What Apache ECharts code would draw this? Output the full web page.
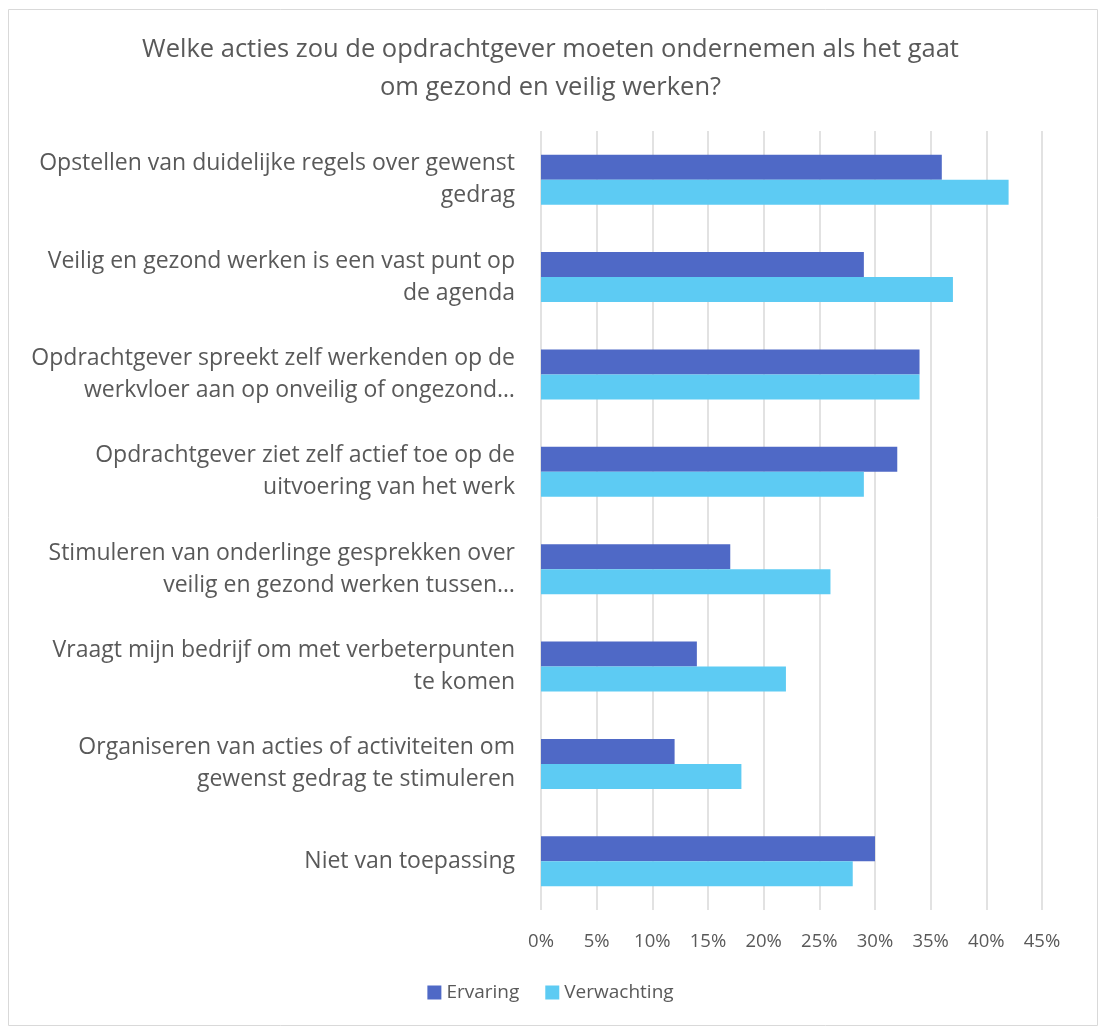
<!DOCTYPE html>
<html>
<head>
<meta charset="utf-8">
<script src="https://cdn.jsdelivr.net/npm/echarts@6/dist/echarts.min.js"></script>
<style>
html,body{margin:0;padding:0;background:#fff;}
#c{width:1101px;height:1028px;}
</style>
</head>
<body>
<div id="c"></div>
<script>
const categories = [
  "Opstellen van duidelijke regels over gewenst\ngedrag",
  "Veilig en gezond werken is een vast punt op\nde agenda",
  "Opdrachtgever spreekt zelf werkenden op de\nwerkvloer aan op onveilig of ongezond…",
  "Opdrachtgever ziet zelf actief toe op de\nuitvoering van het werk",
  "Stimuleren van onderlinge gesprekken over\nveilig en gezond werken tussen…",
  "Vraagt mijn bedrijf om met verbeterpunten\nte komen",
  "Organiseren van acties of activiteiten om\ngewenst gedrag te stimuleren",
  "Niet van toepassing"
];
const ervaring = [36, 29, 34, 32, 17, 14, 12, 30];
const verwachting = [42, 37, 34, 29, 26, 22, 18, 28];
const titleText = "Welke acties zou de opdrachtgever moeten ondernemen als het gaat\nom gezond en veilig werken?";

const font = "'Open Sans', 'Liberation Sans', sans-serif";
const chart = echarts.init(document.getElementById('c'));
chart.setOption({
  animation: false,
  textStyle: { fontFamily: font },
  graphic: [{
    type: 'rect', left: 6, top: 7,
    shape: { width: 1089, height: 1016 },
    style: { fill: 'none', stroke: '#d9d9d9', lineWidth: 1 }
  }],
  title: {
    text: titleText,
    left: 'center', top: 26,
    textStyle: { color: '#595959', fontSize: 25.5, fontWeight: 'normal', fontFamily: font, lineHeight: 38 }
  },
  legend: {
    bottom: 21, left: 'center',
    itemWidth: 14, itemHeight: 14, itemGap: 26,
    icon: 'rect',
    textStyle: { color: '#595959', fontSize: 19, fontFamily: font },
    data: ['Ervaring', 'Verwachting']
  },
  grid: { left: 541, right: 59, top: 131, bottom: 118, containLabel: false },
  xAxis: {
    type: 'value', min: 0, max: 45, interval: 5,
    axisLabel: { formatter: '{value}%', color: '#595959', fontSize: 18.5, margin: 22, fontFamily: font },
    splitLine: { show: true, lineStyle: { color: '#d9d9d9', width: 1.5 } },
    axisLine: { show: false }, axisTick: { show: false }
  },
  yAxis: {
    type: 'category', data: categories, inverse: true,
    axisLabel: { color: '#595959', fontSize: 23, lineHeight: 32, margin: 26, align: 'right', fontFamily: font },
    axisLine: { show: false }, axisTick: { show: false }
  },
  series: [
    { name: 'Ervaring', type: 'bar', data: ervaring, barWidth: 25, barGap: '0%',
      itemStyle: { color: '#4F69C6' } },
    { name: 'Verwachting', type: 'bar', data: verwachting, barWidth: 25, barGap: '0%',
      itemStyle: { color: '#5DCBF3' } }
  ]
});
</script>
</body>
</html>
